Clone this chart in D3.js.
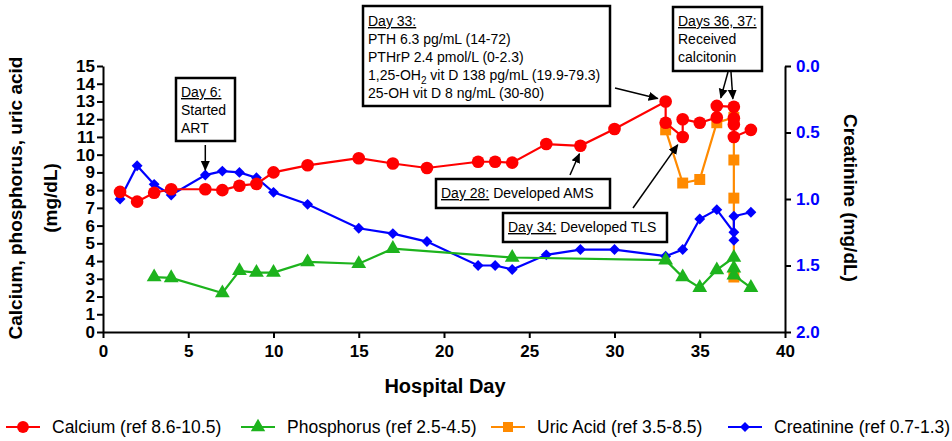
<!DOCTYPE html>
<html><head><meta charset="utf-8">
<script src="https://cdn.jsdelivr.net/npm/d3@7"></script>
<style>body{margin:0;background:#fff}svg{display:block}</style>
</head><body>
<svg id="chart" width="952" height="441"></svg>
<script>
// ---------- DATA ----------
const xTicks = [0, 5, 10, 15, 20, 25, 30, 35, 40];
const leftTicks = [0,1,2,3,4,5,6,7,8,9,10,11,12,13,14,15];
const rightTicks = [0.0, 0.5, 1.0, 1.5, 2.0];

const calciumDays = [1,2,3,4,6,7,8,9,10,12,15,17,19,22,23,24,26,28,30,33,33,34,34,35,36,36,37,37,37,37,38];
const calcium     = [7.9,7.35,7.85,8.05,8.05,8.0,8.25,8.35,9.0,9.4,9.8,9.5,9.25,9.6,9.6,9.55,10.6,10.5,11.45,13.0,11.8,11.0,12.0,11.8,12.1,12.75,12.7,12.05,11.7,11.0,11.4];

const phosDays = [3,4,7,8,9,10,12,15,17,24,33,34,35,36,37,37,37,38];
const phos     = [3.1,3.05,2.2,3.45,3.35,3.35,3.95,3.85,4.7,4.2,4.05,3.1,2.5,3.5,4.2,3.6,3.2,2.5];

const uricDays = [33,34,35,36,37,37,37,37];
const uric     = [11.4,8.4,8.6,11.8,12.1,9.7,7.55,3.1];

const creatDays = [1,2,3,4,6,7,8,9,10,12,15,17,19,22,23,24,26,28,30,33,34,35,36,37,37,37,38];
const creat     = [1.0,0.75,0.89,0.97,0.82,0.79,0.80,0.84,0.95,1.04,1.22,1.26,1.32,1.50,1.50,1.53,1.42,1.38,1.38,1.43,1.38,1.15,1.08,1.25,1.31,1.13,1.10];

const legendLabels = ["Calcium (ref 8.6-10.5)", "Phosphorus (ref 2.5-4.5)", "Uric Acid (ref 3.5-8.5)", "Creatinine (ref 0.7-1.3)"];

// ---------- SETUP ----------
const RED = "#ff0000", GREEN = "#1db31d", ORANGE = "#ff8a00", BLUE = "#0000ff";
const FONT = "'Liberation Sans', Arial, sans-serif";
const svg = d3.select("#chart").style("font-family", FONT);
svg.append("rect").attr("width", 952).attr("height", 441).attr("fill", "#fff");

const x = d3.scaleLinear().domain([0, 40]).range([103, 785]);
const yL = d3.scaleLinear().domain([0, 15]).range([332, 66]);
const yR = d3.scaleLinear().domain([0, 2]).range([66, 332]);

const defs = svg.append("defs");
defs.append("marker").attr("id", "ah").attr("viewBox", "0 0 10 10").attr("refX", 9).attr("refY", 5)
  .attr("markerWidth", 10).attr("markerHeight", 10).attr("markerUnits", "userSpaceOnUse").attr("orient", "auto")
  .append("path").attr("d", "M0,0.5 L10,5 L0,9.5 Z").attr("fill", "#000");

// ---------- AXES ----------
function styleAxis(g, color) {
  g.select(".domain").attr("stroke", "#000").attr("stroke-width", 2);
  g.selectAll(".tick line").attr("stroke", "#000").attr("stroke-width", 2);
  g.selectAll(".tick text").attr("fill", color).attr("font-weight", "bold").attr("font-size", 17).attr("font-family", FONT);
}
const gx = svg.append("g").attr("transform", "translate(0,332)")
  .call(d3.axisBottom(x).tickValues(xTicks).tickSize(6).tickSizeOuter(0).tickPadding(7));
styleAxis(gx, "#000");
const gl = svg.append("g").attr("transform", "translate(103,0)")
  .call(d3.axisLeft(yL).tickValues(leftTicks).tickSize(6).tickSizeOuter(0).tickPadding(2));
styleAxis(gl, "#000");
const gr = svg.append("g").attr("transform", "translate(785,0)")
  .call(d3.axisRight(yR).tickValues(rightTicks).tickFormat(d3.format(".1f")).tickSize(6).tickSizeOuter(0).tickPadding(5));
styleAxis(gr, BLUE);

// Axis titles
svg.append("text").attr("x", 445).attr("y", 393).attr("text-anchor", "middle")
  .attr("font-weight", "bold").attr("font-size", 20).text("Hospital Day");
svg.append("text").attr("transform", "translate(22,198) rotate(-90)").attr("text-anchor", "middle")
  .attr("font-weight", "bold").attr("font-size", 19).text("Calcium, phosphorus, uric acid");
svg.append("text").attr("transform", "translate(57,198) rotate(-90)").attr("text-anchor", "middle")
  .attr("font-weight", "bold").attr("font-size", 19).text("(mg/dL)");
svg.append("text").attr("transform", "translate(844,198) rotate(90)").attr("text-anchor", "middle")
  .attr("font-weight", "bold").attr("font-size", 19).text("Creatinine (mg/dL)");

// ---------- SERIES ----------
const diamond = { draw(ctx, size) { const r = Math.sqrt(size) / 2 * 1.3; ctx.moveTo(0,-r); ctx.lineTo(r,0); ctx.lineTo(0,r); ctx.lineTo(-r,0); ctx.closePath(); } };
const series = [
  { days: uricDays, vals: uric, y: yL, color: ORANGE, sym: d3.symbolSquare, size: 120 },
  { days: creatDays, vals: creat, y: yR, color: BLUE, sym: diamond, size: 70 },
  { days: phosDays, vals: phos, y: yL, color: GREEN, sym: d3.symbolTriangle, size: 95 },
  { days: calciumDays, vals: calcium, y: yL, color: RED, sym: d3.symbolCircle, size: 125 }
];
series.forEach(s => {
  const pts = s.days.map((d, i) => [d, s.vals[i]]);
  const line = d3.line().x(d => x(d[0])).y(d => s.y(d[1]));
  const g = svg.append("g");
  g.append("path").attr("d", line(pts)).attr("fill", "none").attr("stroke", s.color).attr("stroke-width", 2.2);
  g.selectAll("path.m").data(pts).join("path").attr("class", "m")
    .attr("transform", d => `translate(${x(d[0])},${s.y(d[1])})`)
    .attr("d", d3.symbol(s.sym, s.size)()).attr("fill", s.color);
});

// ---------- ANNOTATIONS ----------
function box(x0, y0, w, h) {
  svg.append("rect").attr("x", x0).attr("y", y0).attr("width", w).attr("height", h)
    .attr("fill", "#fff").attr("stroke", "#000").attr("stroke-width", 2.5);
}
function arrow(x1, y1, x2, y2) {
  svg.append("line").attr("x1", x1).attr("y1", y1).attr("x2", x2).attr("y2", y2)
    .attr("stroke", "#000").attr("stroke-width", 1.5).attr("marker-end", "url(#ah)");
}
function label(x0, y0, parts) {
  const t = svg.append("text").attr("x", x0).attr("y", y0).attr("font-size", 14).attr("fill", "#000");
  parts.forEach(p => {
    const ts = t.append("tspan").text(p.t);
    if (p.u) ts.style("text-decoration", "underline");
    if (p.sub) ts.attr("font-size", 10).attr("dy", 4);
    if (p.after) ts.attr("dy", -4);
  });
}

// Day 6
box(176, 78, 59, 63);
label(181, 97, [{ t: "Day 6:", u: true }]);
label(181, 115, [{ t: "Started" }]);
label(181, 133, [{ t: "ART" }]);
arrow(x(6), 145, x(6), 170);

// Day 33
box(363, 6, 247, 100);
label(368, 26, [{ t: "Day 33:", u: true }]);
label(368, 44, [{ t: "PTH 6.3 pg/mL (14-72)" }]);
label(368, 62, [{ t: "PTHrP 2.4 pmol/L (0-2.3)" }]);
label(368, 80, [{ t: "1,25-OH" }, { t: "2", sub: true }, { t: " vit D 138 pg/mL (19.9-79.3)", after: true }]);
label(368, 98, [{ t: "25-OH vit D 8 ng/mL (30-80)" }]);
arrow(615, 88, x(33) - 8, yL(13.0) - 3);

// Days 36, 37
box(673, 7, 89, 64);
label(678, 26, [{ t: "Days 36, 37:", u: true }]);
label(678, 44, [{ t: "Received" }]);
label(678, 62, [{ t: "calcitonin" }]);
arrow(728, 72, x(36) + 4, yL(12.75) - 8);
arrow(731, 72, x(37) - 1, yL(12.7) - 8);

// Day 28
box(436, 179, 174, 29);
label(441, 198, [{ t: "Day 28:", u: true }, { t: " Developed AMS" }]);
arrow(570, 175, x(28) - 1, yL(10.5) + 8);

// Day 34
box(503, 213, 164, 29);
label(508, 232, [{ t: "Day 34:", u: true }, { t: " Developed TLS" }]);
arrow(633, 208, x(34) - 5, yL(11.0) + 8);

// ---------- LEGEND ----------
const legX = [6, 241, 491, 728];
const legColors = [RED, GREEN, ORANGE, BLUE];
const legSyms = [[d3.symbolCircle, 110], [d3.symbolTriangle, 90], [d3.symbolSquare, 100], [diamond, 60]];
legendLabels.forEach((lab, i) => {
  const g = svg.append("g").attr("transform", `translate(${legX[i]},427)`);
  g.append("line").attr("x1", 0).attr("x2", 34).attr("stroke", legColors[i]).attr("stroke-width", 2.2);
  g.append("path").attr("transform", "translate(17,0)").attr("d", d3.symbol(legSyms[i][0], legSyms[i][1])()).attr("fill", legColors[i]);
  g.append("text").attr("x", 46).attr("y", 6).attr("font-size", 17.5).text(lab);
});
</script>
</body></html>
